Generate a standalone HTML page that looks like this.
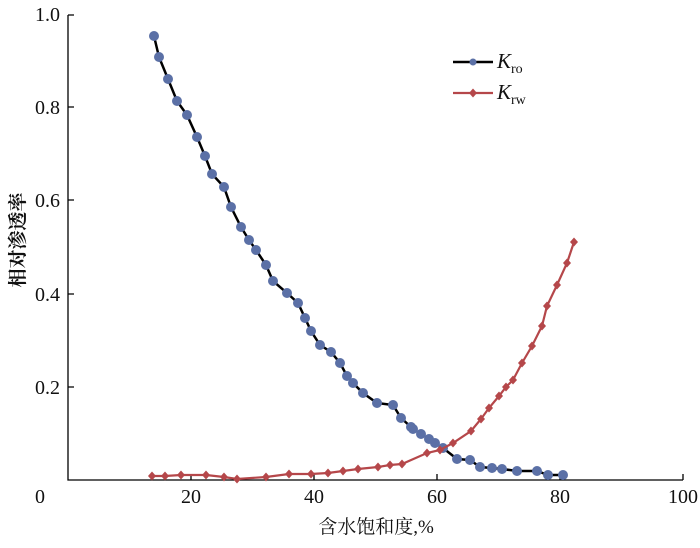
<!DOCTYPE html><html><head><meta charset="utf-8"><style>body{margin:0;background:#fff}svg{font-family:"Liberation Serif",serif}.cn{font-family:"Liberation Serif","Noto Serif CJK SC",serif}</style></head><body>
<svg width="700" height="543" xmlns="http://www.w3.org/2000/svg" font-size="20">
<defs><path id="d" d="M0,-4.5L4,0L0,4.5L-4,0Z" fill="#b5474a"/></defs>
<g stroke="#000" stroke-width="1.3" fill="none">
<path d="M68,15V480H683"/>
<path d="M68,387h6M68,294h6M68,200h6M68,107h6M68,15h6M191,480v-6M314,480v-6M437,480v-6M560,480v-6M683,480v-6"/>
</g>
<g fill="#111" text-anchor="end">
<text x="60" y="394">0.2</text><text x="60" y="301">0.4</text><text x="60" y="207">0.6</text><text x="60" y="114">0.8</text><text x="60" y="21">1.0</text>
</g>
<g fill="#111" text-anchor="middle">
<text x="40" y="503">0</text><text x="191" y="503">20</text><text x="314" y="503">40</text><text x="437" y="503">60</text><text x="560" y="503">80</text><text x="683" y="503">100</text>
<text x="376" y="533" class="cn" font-size="19">含水饱和度,%</text>
<text transform="translate(24,240) rotate(-90)" class="cn" font-size="19" font-weight="bold">相对渗透率</text>
</g>
<polyline fill="none" stroke="#000" stroke-width="2.5" points="154,36 159,57 168,79 177,101 187,115 197,137 205,156 212,174 224,187 231,207 241,227 249,240 256,250 266,265 273,281 287,293 298,303 305,318 311,331 320,345 331,352 340,363 347,376 353,383 363,393 377,403 393,405 401,418 411,427 413,429 421,434 429,439 435,443 443,448 457,459 470,460 480,467 492,468 502,469 517,471 537,471 548,475 563,475"/>
<g fill="#5b70a6">
<circle cx="154" cy="36" r="5"/><circle cx="159" cy="57" r="5"/><circle cx="168" cy="79" r="5"/><circle cx="177" cy="101" r="5"/><circle cx="187" cy="115" r="5"/><circle cx="197" cy="137" r="5"/><circle cx="205" cy="156" r="5"/><circle cx="212" cy="174" r="5"/><circle cx="224" cy="187" r="5"/><circle cx="231" cy="207" r="5"/><circle cx="241" cy="227" r="5"/><circle cx="249" cy="240" r="5"/><circle cx="256" cy="250" r="5"/><circle cx="266" cy="265" r="5"/><circle cx="273" cy="281" r="5"/><circle cx="287" cy="293" r="5"/><circle cx="298" cy="303" r="5"/><circle cx="305" cy="318" r="5"/><circle cx="311" cy="331" r="5"/><circle cx="320" cy="345" r="5"/><circle cx="331" cy="352" r="5"/><circle cx="340" cy="363" r="5"/><circle cx="347" cy="376" r="5"/><circle cx="353" cy="383" r="5"/><circle cx="363" cy="393" r="5"/><circle cx="377" cy="403" r="5"/><circle cx="393" cy="405" r="5"/><circle cx="401" cy="418" r="5"/><circle cx="411" cy="427" r="5"/><circle cx="413" cy="429" r="5"/><circle cx="421" cy="434" r="5"/><circle cx="429" cy="439" r="5"/><circle cx="435" cy="443" r="5"/><circle cx="443" cy="448" r="5"/><circle cx="457" cy="459" r="5"/><circle cx="470" cy="460" r="5"/><circle cx="480" cy="467" r="5"/><circle cx="492" cy="468" r="5"/><circle cx="502" cy="469" r="5"/><circle cx="517" cy="471" r="5"/><circle cx="537" cy="471" r="5"/><circle cx="548" cy="475" r="5"/><circle cx="563" cy="475" r="5"/>
</g>
<polyline fill="none" stroke="#b5474a" stroke-width="2.2" points="152,476 165,476 181,475 206,475 224,477 237,479 266,477 289,474 311,474 328,473 343,471 358,469 378,467 390,465 402,464 427,453 440,450 453,443 471,431 481,419 489,408 499,396 506,387 513,380 522,363 532,346 542,326 547,306 557,285 567,263 574,242"/>
<g>
<use href="#d" x="152" y="476"/><use href="#d" x="165" y="476"/><use href="#d" x="181" y="475"/><use href="#d" x="206" y="475"/><use href="#d" x="224" y="477"/><use href="#d" x="237" y="479"/><use href="#d" x="266" y="477"/><use href="#d" x="289" y="474"/><use href="#d" x="311" y="474"/><use href="#d" x="328" y="473"/><use href="#d" x="343" y="471"/><use href="#d" x="358" y="469"/><use href="#d" x="378" y="467"/><use href="#d" x="390" y="465"/><use href="#d" x="402" y="464"/><use href="#d" x="427" y="453"/><use href="#d" x="440" y="450"/><use href="#d" x="453" y="443"/><use href="#d" x="471" y="431"/><use href="#d" x="481" y="419"/><use href="#d" x="489" y="408"/><use href="#d" x="499" y="396"/><use href="#d" x="506" y="387"/><use href="#d" x="513" y="380"/><use href="#d" x="522" y="363"/><use href="#d" x="532" y="346"/><use href="#d" x="542" y="326"/><use href="#d" x="547" y="306"/><use href="#d" x="557" y="285"/><use href="#d" x="567" y="263"/><use href="#d" x="574" y="242"/>
</g>
<line x1="453" y1="62" x2="493" y2="62" stroke="#000" stroke-width="2.5"/><circle cx="473" cy="62" r="3.5" fill="#5b70a6"/>
<line x1="453" y1="93" x2="493" y2="93" stroke="#b5474a" stroke-width="2.2"/><use href="#d" x="473" y="93"/>
<text x="497" y="68" fill="#111" font-style="italic" font-size="21">K<tspan font-style="normal" font-size="14" dy="5">ro</tspan></text>
<text x="497" y="99" fill="#111" font-style="italic" font-size="21">K<tspan font-style="normal" font-size="14" dy="5">rw</tspan></text>
</svg></body></html>
